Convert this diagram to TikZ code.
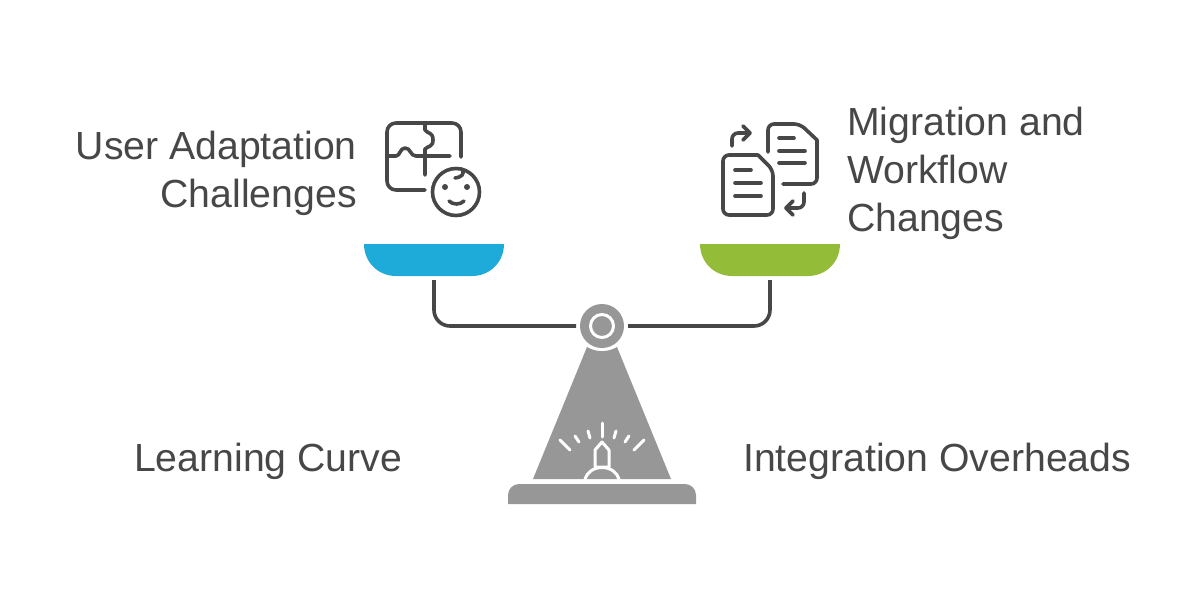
\documentclass[tikz,border=0pt]{standalone}
\usepackage{fontspec}
\setmainfont{Liberation Sans}
\usetikzlibrary{calc, positioning}
\definecolor{panblue}{HTML}{1EABDA}
\definecolor{pangreen}{HTML}{93BC39}
\definecolor{standgray}{HTML}{979797}
\definecolor{inkgray}{HTML}{474747}
\tikzstyle{label} = [text=inkgray, inner sep=0pt, font=\fontsize{39.2}{48}\selectfont]
\tikzstyle{pan} = [rectangle, minimum width=140pt, minimum height=32pt, inner sep=0pt, outer sep=4pt]
\tikzstyle{hub} = [circle, minimum size=44pt, inner sep=0pt, outer sep=4pt, fill=standgray]
\tikzstyle{ring} = [circle, minimum size=23pt, inner sep=0pt, draw=white, line width=3pt]
\tikzstyle{arm} = [draw=inkgray, line width=3.6pt, rounded corners=16pt]
\tikzstyle{icon} = [draw=inkgray, line width=3.6pt, line cap=round, line join=round]
\tikzstyle{spark} = [draw=white, line width=3pt, line cap=round, line join=round]

\begin{document}
\begin{tikzpicture}[x=1pt, y=-1pt]
    \useasboundingbox (0,0) rectangle (1192,605);
    % scale pans
    \node (LeftPan) [pan] at (434,260) {};
    \node (RightPan) [pan] at (770,260) {};
    \fill [panblue] (364,244) -- (504,244) .. controls (504,262) and (490,276) .. (472,276) -- (396,276) .. controls (378,276) and (364,262) .. (364,244) -- cycle;
    \fill [pangreen] (700,244) -- (840,244) .. controls (840,262) and (826,276) .. (808,276) -- (732,276) .. controls (714,276) and (700,262) .. (700,244) -- cycle;
    % stand
    \node (Hub) [hub] at (602,326) {};
    \node (HubRing) [ring] at (Hub) {};
    \fill [standgray] (587,347) .. controls (596,352.5) and (608,352.5) .. (617,347) -- (671,479) -- (533,479) -- cycle;
    \fill [standgray] (508,504) -- (508,495) .. controls (508,489) and (513,484) .. (519,484) -- (685,484) .. controls (691,484) and (696,489) .. (696,495) -- (696,504) -- cycle;
    \draw [arm] (Hub.west) -| (LeftPan.south);
    \draw [arm] (Hub.east) -| (RightPan.south);
    % light on the stand
    \draw [spark] (602,423) -- (602,437);
    \draw [spark] (588,431) -- (590,438);
    \draw [spark] (616,431) -- (614,438);
    \draw [spark] (575,436) -- (579,442);
    \draw [spark] (629,436) -- (625,442);
    \draw [spark] (560,440) -- (570,450);
    \draw [spark] (644,440) -- (634,450);
    \draw [spark] (595,467) -- (595,450) -- (602,442) -- (609,450) -- (609,467) -- cycle;
    \draw [spark] (585,479) .. controls (587,472) and (594,467.5) .. (602,467.5) .. controls (610,467.5) and (617,472) .. (619,479);
    % puzzle icon
    \draw [icon, rounded corners=9pt] (461,157) -- (461,123) -- (387,123) -- (387,190) -- (425,190);
    \draw [icon] (425,123) -- (425,130) .. controls (428,134) and (433,132) .. (433,140) .. controls (433,147) and (428,146) .. (425,149) -- (425,175);
    \draw [icon] (387,156) -- (396,156) .. controls (400,156) and (400,148) .. (405,148) .. controls (411,148) and (410,156) .. (416,156) -- (450,156);
    \node (Face) [circle, draw=inkgray, line width=3.6pt, minimum size=47pt, inner sep=0pt] at (456,192) {};
    \node (LeftEye) [circle, fill=inkgray, minimum size=6pt, inner sep=0pt] at (445,187) {};
    \node (RightEye) [circle, fill=inkgray, minimum size=6pt, inner sep=0pt] at (467,187) {};
    \draw [icon] (449,201) .. controls (453,205) and (460,205) .. (464,201);
    \draw [icon] (462,169) .. controls (465,174) and (462,177) .. (455,178);
    % document icon
    \draw [icon, rounded corners=6pt] (768,152) -- (768,124) -- (800,124) [sharp corners] -- (817,140) [rounded corners=6pt] -- (817,184) -- (783,184);
    \draw [icon, rounded corners=6pt] (758,155) -- (723,155) -- (723,215) -- (773,215) -- (773,170) [sharp corners] -- (758,155);
    \draw [icon] (779,138) -- (794,138);
    \draw [icon] (779,151) -- (805,151);
    \draw [icon] (779,163) -- (805,163);
    \draw [icon] (735,170) -- (751,170);
    \draw [icon] (735,183) -- (761,183);
    \draw [icon] (735,196) -- (761,196);
    \draw [icon, rounded corners=6pt] (732,146) -- (732,133) -- (750,133);
    \draw [icon] (743,126) -- (750,133) -- (743,140);
    \draw [icon, rounded corners=6pt] (804,193) -- (804,208) -- (786,208);
    \draw [icon] (793,201) -- (786,208) -- (793,215);
    % labels
    \node (UserLabel) [label, anchor=east, align=right] at (357,173) {User Adaptation\\Challenges};
    \node (MigrationLabel) [label, anchor=west, align=left] at (847,173) {Migration and\\Workflow\\Changes};
    \node (CurveLabel) [label, anchor=west] at (134,461) {Learning Curve};
    \node (OverheadLabel) [label, anchor=west] at (743,461) {Integration Overheads};
\end{tikzpicture}
\end{document}
